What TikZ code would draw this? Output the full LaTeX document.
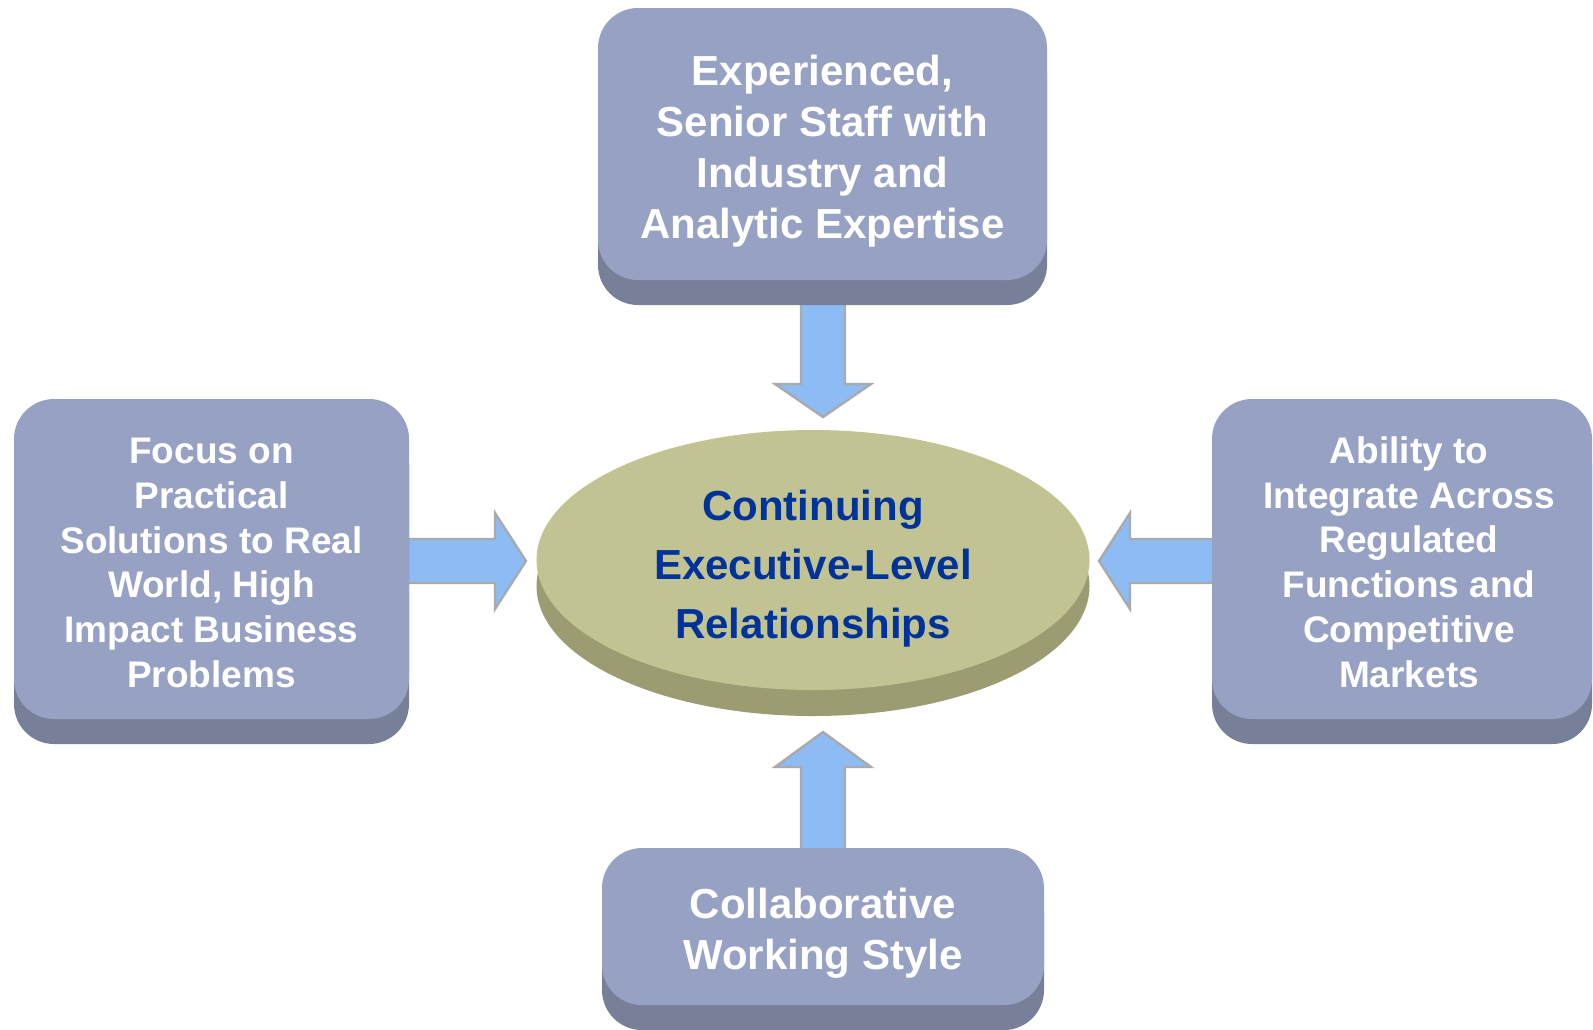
\documentclass[tikz,border=0pt]{standalone}
\usepackage{fontspec}
\setmainfont{Liberation Sans}
\usetikzlibrary{shadows,calc,backgrounds,shapes.geometric}
\definecolor{boxface}{RGB}{151,161,196}
\definecolor{boxside}{RGB}{120,127,153}
\definecolor{diskface}{RGB}{194,195,146}
\definecolor{diskside}{RGB}{155,156,114}
\definecolor{disktext}{RGB}{0,51,153}
\definecolor{arrfill}{RGB}{141,188,245}
\definecolor{arrline}{RGB}{170,170,170}
\tikzset{
  box/.style={fill=boxface, rounded corners=20pt, inner sep=0pt,
    general shadow={fill=boxside, shadow xshift=0pt, shadow yshift=-12.5pt}},
  boxtext/.style={align=center, text=white, inner sep=0pt},
  bigtext/.style={boxtext, font=\fontsize{21}{25.5}\selectfont\bfseries},
  smalltext/.style={boxtext, font=\fontsize{18.5}{22.4}\selectfont\bfseries},
  disk/.style={ellipse, fill=diskface, inner sep=0pt,
    general shadow={fill=diskside, shadow xshift=0pt, shadow yshift=-13pt}},
  disktxt/.style={align=center, text=disktext, inner sep=0pt,
    font=\fontsize{21}{29.5}\selectfont\bfseries},
  barrow/.style={fill=arrfill, draw=arrline, line width=1.2pt, line join=miter},
}
\begin{document}
\begin{tikzpicture}[x=0.5pt,y=-0.5pt]
\useasboundingbox (0,0) rectangle (1593,1029);
\clip (0,0) rectangle (1593,1029);

% boxes
\node[box, minimum width=224.5pt, minimum height=136pt] (top) at (822.5,144) {};
\node[bigtext] (toptext) at ($(top)+(0,7)$)
  {Experienced,\\Senior Staff with\\Industry and\\Analytic Expertise};
\node[box, minimum width=197.5pt, minimum height=160pt] (left) at (211.5,559) {};
\node[smalltext] (lefttext) at ($(left)+(0,4)$)
  {Focus on\\Practical\\Solutions to Real\\World, High\\Impact Business\\Problems};
\node[box, minimum width=190pt, minimum height=160pt] (right) at (1402,559) {};
\node[smalltext] (righttext) at ($(right)+(7,3)$)
  {Ability to\\Integrate Across\\Regulated\\Functions and\\Competitive\\Markets};
\node[box, minimum width=221pt, minimum height=78.5pt] (bottom) at (823,926.5) {};
\node[bigtext] (bottomtext) at ($(bottom)+(0,7)$)
  {Collaborative\\Working Style};

% central disk
\node[disk, minimum width=276.5pt, minimum height=130pt] (center) at (813,560) {};
\node[disktxt] (centertext) at ($(center)+(0,9)$)
  {Continuing\\Executive-Level\\Relationships};

% tips of the block arrows
\coordinate (ttop) at (823,417);
\coordinate (tbot) at (823,732);
\coordinate (tleft) at (526,561);
\coordinate (tright) at (1099,561);

\begin{pgfonlayer}{background}
% top arrow (down)
\draw[barrow] ($(top.south -| ttop)+(-22,0)$) -- ($(ttop)+(-22,-33)$) -- ($(ttop)+(-48,-33)$)
  -- (ttop) -- ($(ttop)+(48,-33)$) -- ($(ttop)+(22,-33)$) -- ($(top.south -| ttop)+(22,0)$) -- cycle;
% bottom arrow (up)
\draw[barrow] ($(bottom.north -| tbot)+(-22,10)$) -- ($(tbot)+(-22,35)$) -- ($(tbot)+(-48,35)$)
  -- (tbot) -- ($(tbot)+(48,35)$) -- ($(tbot)+(22,35)$) -- ($(bottom.north -| tbot)+(22,10)$) -- cycle;
% left arrow (right)
\draw[barrow] ($(left.east |- tleft)+(-10,-22)$) -- ($(tleft)+(-31,-22)$) -- ($(tleft)+(-31,-48)$)
  -- (tleft) -- ($(tleft)+(-31,48)$) -- ($(tleft)+(-31,22)$) -- ($(left.east |- tleft)+(-10,22)$) -- cycle;
% right arrow (left)
\draw[barrow] ($(right.west |- tright)+(10,-22)$) -- ($(tright)+(31,-22)$) -- ($(tright)+(31,-48)$)
  -- (tright) -- ($(tright)+(31,48)$) -- ($(tright)+(31,22)$) -- ($(right.west |- tright)+(10,22)$) -- cycle;
\end{pgfonlayer}
\end{tikzpicture}
\end{document}
